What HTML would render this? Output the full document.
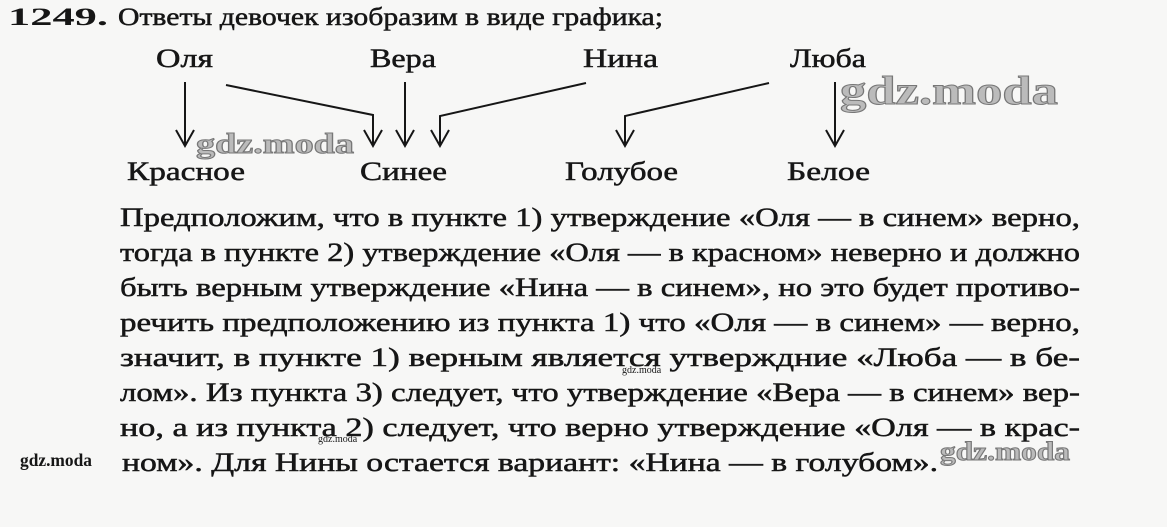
<!DOCTYPE html>
<html><head><meta charset="utf-8"><style>
html,body{margin:0;padding:0;background:#f7f7f6;}
svg{display:block;}
text{font-family:"Liberation Serif",serif;fill:#161616;}
.t{stroke:#161616;stroke-width:0.5;}
.wm{font-family:"Liberation Serif",serif;font-weight:bold;fill:#bbb;stroke:#777;stroke-width:1;}
</style></head><body>
<svg width="1167" height="527" viewBox="0 0 1167 527" xmlns="http://www.w3.org/2000/svg">
<rect width="1167" height="527" fill="#f7f7f6"/>
<text x="8" y="25" font-size="25" font-weight="bold" textLength="100" lengthAdjust="spacingAndGlyphs">1249.</text>
<text class="t" x="118" y="25" font-size="25" textLength="545" lengthAdjust="spacingAndGlyphs">Ответы девочек изобразим в виде графика;</text>

<g font-size="26" class="t">
<text x="156" y="67" textLength="57" lengthAdjust="spacingAndGlyphs">Оля</text>
<text x="370" y="67" textLength="66" lengthAdjust="spacingAndGlyphs">Вера</text>
<text x="583" y="67" textLength="75" lengthAdjust="spacingAndGlyphs">Нина</text>
<text x="790" y="67" textLength="76" lengthAdjust="spacingAndGlyphs">Люба</text>
<text x="127" y="180" textLength="118" lengthAdjust="spacingAndGlyphs">Красное</text>
<text x="360" y="180" textLength="87" lengthAdjust="spacingAndGlyphs">Синее</text>
<text x="565" y="180" textLength="113" lengthAdjust="spacingAndGlyphs">Голубое</text>
<text x="787" y="180" textLength="83" lengthAdjust="spacingAndGlyphs">Белое</text>
</g>

<g stroke="#161616" stroke-width="2" fill="none">
<path d="M185 82 V145 M176 130 L185 146 L194 130"/>
<path d="M226 85 L373 115 V145 M364 130 L373 146 L382 130"/>
<path d="M405 82 V145 M396 130 L405 146 L414 130"/>
<path d="M586 83 L440 116 V145 M431 130 L440 146 L449 130"/>
<path d="M769 83 L625 116 V145 M616 130 L625 146 L634 130"/>
<path d="M835 82 V145 M826 130 L835 146 L844 130"/>
</g>

<g font-size="26" class="t">
<text x="120" y="226" textLength="960" lengthAdjust="spacingAndGlyphs">Предположим, что в пункте 1) утверждение «Оля — в синем» верно,</text>
<text x="120" y="261" textLength="960" lengthAdjust="spacingAndGlyphs">тогда в пункте 2) утверждение «Оля — в красном» неверно и должно</text>
<text x="120" y="296" textLength="960" lengthAdjust="spacingAndGlyphs">быть верным утверждение «Нина — в синем», но это будет противо-</text>
<text x="120" y="331" textLength="960" lengthAdjust="spacingAndGlyphs">речить предположению из пункта 1) что «Оля — в синем» — верно,</text>
<text x="120" y="366" textLength="960" lengthAdjust="spacingAndGlyphs">значит, в пункте 1) верным является утверждние «Люба — в бе-</text>
<text x="120" y="401" textLength="960" lengthAdjust="spacingAndGlyphs">лом». Из пункта 3) следует, что утверждение «Вера — в синем» вер-</text>
<text x="120" y="436" textLength="960" lengthAdjust="spacingAndGlyphs">но, а из пункта 2) следует, что верно утверждение «Оля — в крас-</text>
<text x="122" y="471" textLength="816" lengthAdjust="spacingAndGlyphs">ном». Для Нины остается вариант: «Нина — в голубом».</text>
</g>

<text class="wm" x="840" y="104" font-size="40" textLength="218" lengthAdjust="spacingAndGlyphs">gdz.moda</text>
<text class="wm" x="196" y="153" font-size="28" textLength="158" lengthAdjust="spacingAndGlyphs">gdz.moda</text>
<text class="wm" x="940" y="460" font-size="26" textLength="130" lengthAdjust="spacingAndGlyphs">gdz.moda</text>
<text x="20" y="466" font-size="18" font-weight="bold" fill="#555" textLength="72" lengthAdjust="spacingAndGlyphs">gdz.moda</text>
<text x="318" y="442" font-size="10" fill="#777">gdz.moda</text>
<text x="622" y="373" font-size="10" fill="#777">gdz.moda</text>
</svg>
</body></html>
